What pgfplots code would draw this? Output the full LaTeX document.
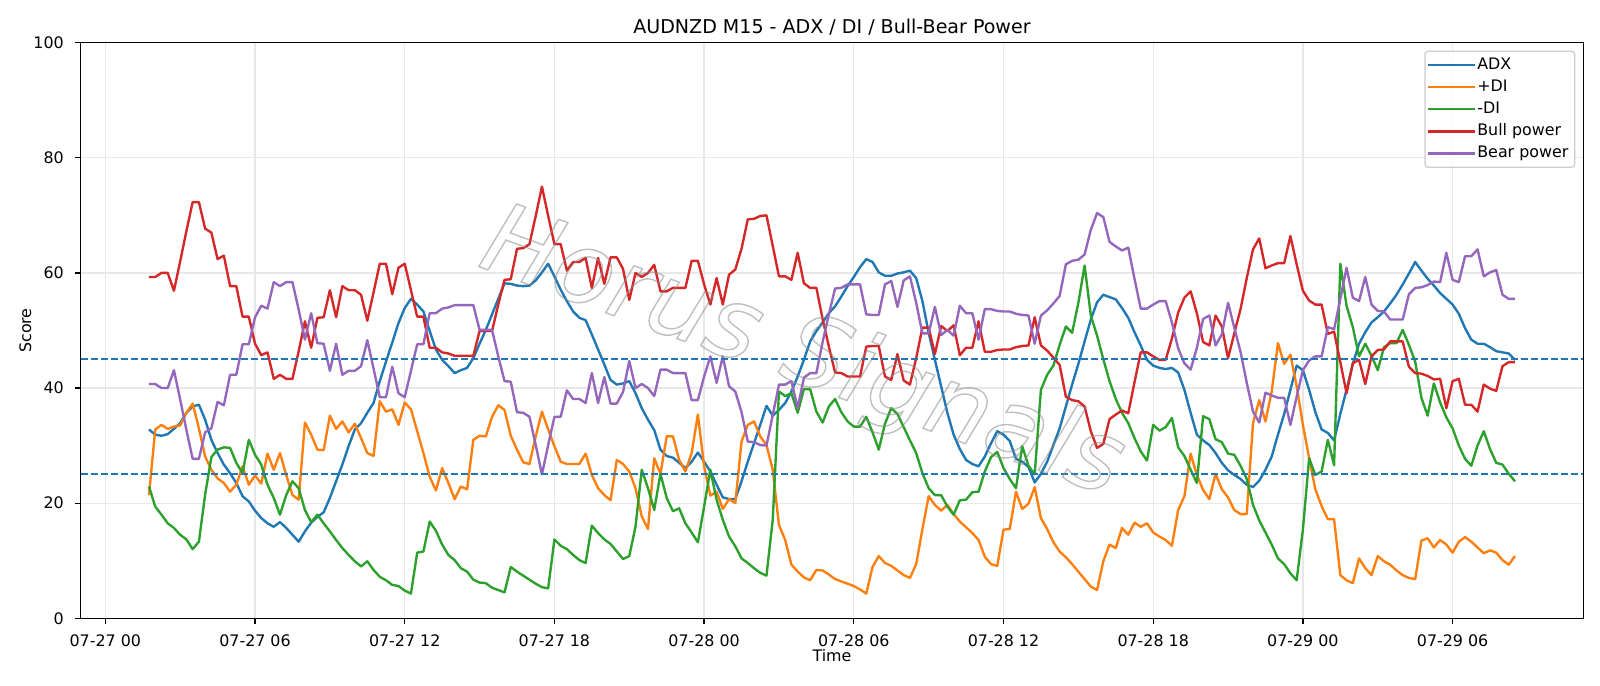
\documentclass[border=0pt]{standalone}
\usepackage{fontspec}
\setmainfont{DejaVu Sans}
\usepackage{pgfplots}
\pgfplotsset{compat=1.18}
\usepackage{pgfplotstable}
\definecolor{c0}{HTML}{1F77B4}
\definecolor{c1}{HTML}{FF7F0E}
\definecolor{c2}{HTML}{2CA02C}
\definecolor{c3}{HTML}{D62728}
\definecolor{c4}{HTML}{9467BD}
\pgfplotstableread{
t adx pdi mdi bull bear
1.75 32.8 21.4 22.9 59.3 40.7
2.00 31.9 32.8 19.4 59.3 40.7
2.25 31.7 33.6 18.0 60.0 40.0
2.50 32.0 32.9 16.5 60.0 40.0
2.75 32.9 33.3 15.7 56.9 43.1
3.00 33.9 33.5 14.5 62.0 38.0
3.25 35.7 35.7 13.7 67.3 32.7
3.50 36.8 37.3 12.0 72.3 27.7
3.75 37.1 33.0 13.3 72.3 27.7
4.00 34.5 28.1 21.5 67.7 32.3
4.25 31.0 25.8 28.0 67.0 33.0
4.50 28.7 24.3 29.3 62.4 37.6
4.75 26.7 23.5 29.7 63.0 37.0
5.00 25.2 22.0 29.6 57.7 42.3
5.25 23.5 23.2 27.0 57.7 42.3
5.50 21.2 26.4 25.2 52.4 47.6
5.75 20.3 23.2 31.0 52.4 47.6
6.00 18.7 24.8 28.4 47.7 52.3
6.25 17.4 23.4 26.7 45.7 54.3
6.50 16.5 28.6 23.2 46.2 53.8
6.75 15.9 25.8 20.9 41.6 58.4
7.00 16.7 28.7 18.0 42.3 57.7
7.25 15.7 24.9 21.4 41.6 58.4
7.50 14.5 21.4 23.8 41.6 58.4
7.75 13.3 20.6 22.6 46.4 53.6
8.00 15.1 34.0 18.8 51.6 48.4
8.25 16.6 31.9 16.7 47.0 53.0
8.50 17.6 29.3 18.0 52.2 47.8
8.75 18.4 29.2 16.5 52.3 47.7
9.00 20.9 35.2 15.1 57.0 43.0
9.25 23.8 32.9 13.6 52.3 47.7
9.50 26.7 34.2 12.2 57.7 42.3
9.75 29.9 32.3 11.0 57.0 43.0
10.00 32.8 33.8 9.9 57.0 43.0
10.25 33.9 31.3 9.0 56.2 43.8
10.50 35.7 28.7 9.9 51.7 48.3
10.75 37.4 28.2 8.4 56.6 43.4
11.00 41.2 37.7 7.2 61.6 38.4
11.25 44.6 35.9 6.6 61.6 38.4
11.50 47.9 36.3 5.8 56.3 43.7
11.75 51.3 33.6 5.6 60.9 39.1
12.00 53.9 37.5 4.8 61.6 38.4
12.25 55.5 36.3 4.3 57.0 43.0
12.50 54.5 32.5 11.4 52.4 47.6
12.75 53.3 28.7 11.6 52.4 47.6
13.00 49.9 24.6 16.8 47.0 53.0
13.25 46.7 22.2 15.2 47.0 53.0
13.50 44.9 26.1 12.8 46.2 53.8
13.75 43.8 23.5 11.0 46.0 54.0
14.00 42.6 20.7 10.1 45.6 54.4
14.25 43.1 22.9 8.7 45.6 54.4
14.50 43.5 22.4 8.1 45.6 54.4
14.75 45.2 31.0 6.7 45.6 54.4
15.00 47.7 31.7 6.2 49.9 50.1
15.25 50.1 31.6 6.1 49.9 50.1
15.50 52.8 35.0 5.3 49.9 50.1
15.75 55.5 37.0 4.9 54.5 45.5
16.00 58.2 36.2 4.5 58.8 41.2
16.25 58.1 31.7 8.9 58.9 41.1
16.50 57.8 29.3 8.1 64.2 35.8
16.75 57.7 27.1 7.4 64.3 35.7
17.00 57.8 26.8 6.7 65.0 35.0
17.25 58.7 31.6 6.0 69.9 30.1
17.50 60.1 35.9 5.4 75.0 25.0
17.75 61.6 32.8 5.2 69.9 30.1
18.00 59.4 29.9 13.7 65.0 35.0
18.25 57.1 27.2 12.6 65.0 35.0
18.50 55.1 26.8 12.0 60.4 39.6
18.75 53.3 26.8 11.0 61.9 38.1
19.00 52.2 26.8 10.1 61.9 38.1
19.25 51.8 28.6 9.6 62.6 37.4
19.50 49.3 24.9 16.1 57.4 42.6
19.75 46.7 22.6 14.8 62.6 37.4
20.00 44.1 21.4 13.7 58.1 41.9
20.25 41.4 20.5 12.9 62.7 37.3
20.50 40.6 27.5 11.6 62.7 37.3
20.75 40.8 26.8 10.3 60.7 39.3
21.00 41.2 25.5 10.8 55.3 44.7
21.25 39.1 22.6 15.9 60.0 40.0
21.50 36.5 17.7 25.8 59.3 40.7
21.75 34.5 15.5 22.6 60.0 40.0
22.00 32.7 27.8 18.8 61.4 38.6
22.25 29.3 25.1 25.1 56.8 43.2
22.50 28.2 31.6 20.9 56.8 43.2
22.75 27.9 31.6 18.6 57.4 42.6
23.00 27.0 27.5 19.1 57.4 42.6
23.25 26.1 25.5 16.5 57.4 42.6
23.50 27.2 28.7 14.9 62.1 37.9
23.75 28.8 35.4 13.2 62.1 37.9
24.00 27.2 26.4 19.4 58.0 42.0
24.25 25.5 21.3 25.8 54.5 45.5
24.50 23.2 22.0 20.6 59.1 40.9
24.75 21.0 19.0 17.1 54.5 45.5
25.00 20.7 20.7 14.2 59.7 40.3
25.25 20.7 20.0 12.5 60.6 39.4
25.50 23.8 30.7 10.4 64.2 35.8
25.75 27.2 33.6 9.6 69.3 30.7
26.00 30.4 34.2 8.7 69.4 30.6
26.25 33.6 31.6 7.9 69.9 30.1
26.50 36.9 30.1 7.4 70.0 30.0
26.75 35.2 25.8 17.1 64.7 35.3
27.00 36.2 16.2 39.4 59.4 40.6
27.25 37.4 13.6 38.6 59.4 40.6
27.50 39.4 9.3 39.1 58.8 41.2
27.75 42.0 8.1 35.7 63.5 36.5
28.00 44.9 7.1 39.8 58.2 41.8
28.25 48.1 6.6 39.8 57.4 42.6
28.50 49.9 8.4 35.9 57.4 42.6
28.75 51.4 8.3 34.0 52.0 48.0
29.00 53.0 7.6 36.8 47.2 52.8
29.25 54.2 6.8 38.1 42.7 57.3
29.50 55.9 6.4 35.8 42.6 57.4
29.75 57.7 6.0 34.2 42.0 58.0
30.00 59.3 5.6 33.3 42.0 58.0
30.25 61.0 5.0 33.3 42.0 58.0
30.50 62.4 4.3 35.0 47.2 52.8
30.75 61.9 8.9 32.3 47.3 52.7
31.00 60.1 10.8 29.3 47.3 52.7
31.25 59.5 9.6 33.8 42.0 58.0
31.50 59.5 9.1 36.5 41.4 58.6
31.75 59.9 8.3 35.5 45.9 54.1
32.00 60.1 7.5 33.2 41.3 58.7
32.25 60.4 7.0 30.9 40.6 59.4
32.50 59.1 9.4 28.7 45.2 54.8
32.75 55.1 15.5 25.2 50.5 49.5
33.00 49.6 21.2 22.6 50.5 49.5
33.25 44.9 19.7 21.4 45.9 54.1
33.50 40.3 18.7 21.4 50.8 49.2
33.75 35.7 19.7 19.4 49.9 50.1
34.00 31.9 18.1 18.0 50.9 49.1
34.25 29.4 16.8 20.5 45.7 54.3
34.50 27.5 15.8 20.6 47.0 53.0
34.75 26.8 14.8 21.9 47.0 53.0
35.00 26.4 13.6 22.0 51.6 48.4
35.25 28.1 10.7 25.5 46.3 53.7
35.50 30.4 9.4 28.0 46.3 53.7
35.75 32.5 9.1 28.9 46.6 53.4
36.00 31.9 15.4 26.1 46.7 53.3
36.25 30.8 15.5 24.2 46.7 53.3
36.50 27.7 22.0 22.6 47.1 52.9
36.75 27.2 19.0 29.9 47.3 52.7
37.00 26.3 19.9 26.5 47.4 52.6
37.25 23.6 22.8 25.0 52.3 47.7
37.50 25.1 17.4 39.7 47.4 52.6
37.75 27.2 15.5 42.3 46.5 53.5
38.00 30.1 13.2 43.9 45.3 54.7
38.25 33.0 11.6 47.5 44.0 56.0
38.50 36.8 10.6 50.7 38.5 61.5
38.75 40.6 9.4 49.6 37.9 62.1
39.00 44.2 8.1 54.8 37.7 62.3
39.25 48.1 6.8 61.3 36.8 63.2
39.50 51.9 5.5 52.6 32.5 67.5
39.75 54.9 4.9 49.1 29.6 70.4
40.00 56.2 9.9 45.0 30.3 69.7
40.25 55.8 12.8 41.2 34.6 65.4
40.50 55.4 12.2 38.1 35.4 64.6
40.75 53.9 15.7 35.7 36.1 63.9
41.00 52.2 14.5 33.9 35.6 64.4
41.25 49.7 16.6 31.3 41.0 59.0
41.50 47.4 15.9 29.0 46.2 53.8
41.75 44.9 16.5 27.4 46.2 53.8
42.00 43.9 14.9 33.6 45.5 54.5
42.25 43.5 14.2 32.6 44.9 55.1
42.50 43.3 13.6 33.2 44.9 55.1
42.75 43.5 12.6 34.8 48.6 51.4
43.00 42.7 18.8 29.7 53.1 46.9
43.25 39.7 21.2 28.2 55.7 44.3
43.50 35.7 28.6 25.8 56.8 43.2
43.75 31.9 24.9 23.5 53.0 47.0
44.00 30.9 22.3 35.1 48.0 52.0
44.25 30.1 20.7 34.6 47.4 52.6
44.50 28.7 25.1 31.1 52.6 47.4
44.75 27.0 22.4 30.6 50.7 49.3
45.00 25.7 21.0 28.6 45.2 54.8
45.25 24.9 18.8 28.4 49.5 50.5
45.50 24.2 18.1 26.5 53.7 46.3
45.75 23.2 18.1 24.2 59.1 40.9
46.00 22.8 33.9 19.7 64.1 35.9
46.25 23.9 37.9 17.0 66.0 34.0
46.50 25.8 34.2 14.9 60.8 39.2
46.75 28.1 39.4 12.8 61.3 38.7
47.00 31.9 47.8 10.4 61.7 38.3
47.25 35.5 44.2 9.4 61.7 38.3
47.50 39.7 45.8 7.8 66.4 33.6
47.75 43.9 40.3 6.6 61.5 38.5
48.00 43.1 33.6 15.4 56.9 43.1
48.25 39.7 27.8 27.8 55.2 44.8
48.50 35.8 22.4 24.9 54.5 45.5
48.75 32.8 19.5 25.5 54.5 45.5
49.00 32.2 17.2 31.0 49.4 50.6
49.25 30.9 17.2 26.6 49.8 50.2
49.50 35.5 7.5 61.6 44.5 55.5
49.75 39.7 6.6 54.3 39.1 60.9
50.00 44.2 6.1 50.6 44.3 55.7
50.25 47.7 10.4 45.5 44.9 55.1
50.50 49.7 8.7 47.7 40.7 59.3
50.75 51.4 7.5 45.6 45.5 54.5
51.00 52.3 10.8 43.1 46.6 53.4
51.25 53.3 9.9 47.1 46.7 53.3
51.50 54.7 9.3 47.8 48.1 51.9
51.75 56.2 8.3 47.8 48.1 51.9
52.00 58.0 7.5 50.1 48.1 51.9
52.25 59.9 7.0 47.5 43.7 56.3
52.50 61.9 6.8 44.6 42.6 57.4
52.75 60.4 13.5 38.3 42.5 57.5
53.00 59.0 13.9 35.2 42.1 57.9
53.25 57.8 12.3 40.8 41.5 58.5
53.50 56.5 13.6 37.5 41.6 58.4
53.75 55.5 12.8 34.9 36.5 63.5
54.00 54.5 11.4 33.0 41.2 58.8
54.25 52.9 13.3 30.0 41.6 58.4
54.50 50.4 14.1 27.7 37.1 62.9
54.75 48.4 13.3 26.5 37.1 62.9
55.00 47.7 12.3 30.0 35.9 64.1
55.25 47.7 11.3 32.5 40.6 59.4
55.50 47.1 11.8 29.4 39.9 60.1
55.75 46.4 11.4 27.0 39.5 60.5
56.00 46.2 10.1 26.7 43.8 56.2
56.25 46.0 9.3 25.1 44.5 55.5
56.50 44.9 10.8 23.8 44.5 55.5
}\data
\begin{document}
\begin{tikzpicture}
\path[use as bounding box] (0,0) rectangle (1008pt,432pt);
\begin{axis}[
  at={(50.84pt,42.5pt)}, anchor=south west,
  scale only axis, width=946.6pt, height=362.6pt,
  xmin=-0.9875, xmax=59.2375, ymin=0, ymax=100,
  xtick={0,6,...,54},
  xticklabels={07-27 00,07-27 06,07-27 12,07-27 18,07-28 00,07-28 06,07-28 12,07-28 18,07-29 00,07-29 06},
  ytick={0,20,...,100},
  tick pos=left, tick align=outside, major tick length=3.5pt,
  every tick/.style={black, line width=0.8pt},
  axis line style={black, line width=0.8pt},
  grid=major, major grid style={color=black!9, line width=0.8pt},
  /pgf/number format/assume math mode=true,
  tick label style={font=\fontsize{10}{12}\selectfont, inner sep=0pt},
  xticklabel style={anchor=base, yshift=-14.3pt},
  yticklabel style={anchor=base east, xshift=-7pt, yshift=-3.65pt},
  title={AUDNZD M15 - ADX / DI / Bull-Bear Power},
  title style={at={(axis description cs:0.5,1.0002)}, anchor=base, yshift=0pt, inner sep=0pt, font=\fontsize{12}{14}\selectfont},
  xlabel={Time},
  xlabel style={at={(axis description cs:0.5,-0.0753)}, anchor=base, inner sep=0pt, font=\fontsize{10}{12}\selectfont},
  ylabel={Score},
  ylabel style={at={(axis description cs:-0.03296,0.5)}, anchor=base, inner sep=0pt, font=\fontsize{10}{12}\selectfont},
  legend cell align=left,
  legend image code/.code={\draw[#1, overlay] (-2pt,0pt) -- (19pt,0pt); \path (0pt,0pt) -- (27.5pt,0pt);},
  legend style={at={(axis description cs:0.99474,0.98627)}, anchor=north east,
    draw=black!20, line width=0.8pt, rounded corners=2pt, fill=white, fill opacity=0.8, text opacity=1,
    font=\fontsize{10}{12}\selectfont, inner sep=3pt, row sep=2.4pt,
    nodes={inner sep=1pt, text height=7.5pt, text depth=2pt}},
]
\addplot[c0, line width=1.5pt, line join=round] table[x=t, y=adx]{\data};
\addlegendentry{ADX}
\addplot[c1, line width=1.5pt, line join=round] table[x=t, y=pdi]{\data};
\addlegendentry{+DI}
\addplot[c2, line width=1.5pt, line join=round] table[x=t, y=mdi]{\data};
\addlegendentry{-DI}
\addplot[c3, line width=1.5pt, line join=round] table[x=t, y=bull]{\data};
\addlegendentry{Bull power}
\addplot[c4, line width=1.5pt, line join=round] table[x=t, y=bear]{\data};
\addlegendentry{Bear power}
\addplot[c0, line width=1.2pt, dash pattern=on 4.4pt off 1.9pt, forget plot] coordinates {(-0.9875,45) (59.2375,45)};
\addplot[c0, line width=1.2pt, dash pattern=on 4.4pt off 1.9pt, forget plot] coordinates {(-0.9875,25) (59.2375,25)};
\node[rotate=-20, font=\fontsize{62}{70}\selectfont\itshape, text=black!45, opacity=0.55] at (axis description cs:0.48,0.457) {\special{pdf:literal direct 1 Tr 0.9 w}Horus Signals\special{pdf:literal direct 0 Tr}};
\end{axis}
\end{tikzpicture}
\end{document}
